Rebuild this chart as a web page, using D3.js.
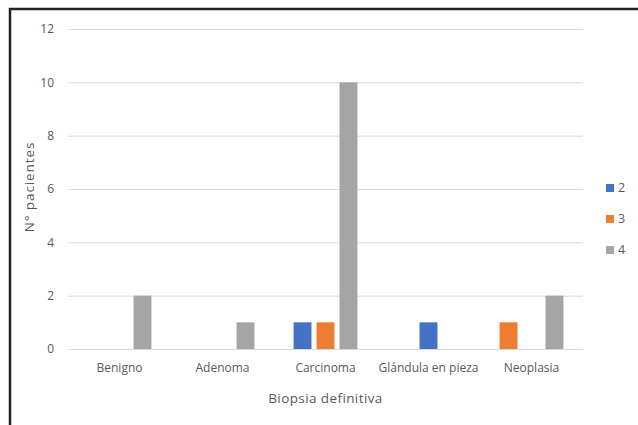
<!DOCTYPE html>
<html>
<head>
<meta charset="utf-8">
<script src="https://cdn.jsdelivr.net/npm/d3@7"></script>
<style>
  html, body { margin: 0; padding: 0; background: #fff; }
  svg { display: block; }
  text { font-family: "Open Sans", "Liberation Sans", sans-serif; fill: #595959; }
</style>
</head>
<body>
<svg id="chart" width="638" height="425"></svg>
<script>
// Categories on the x axis
const categories = ["Benigno", "Adenoma", "Carcinoma", "Glándula en pieza", "Neoplasia"];
// Legend series
const seriesNames = ["2", "3", "4"];
const seriesColors = ["#4472C4", "#ED7D31", "#A5A5A5"];
// Cluster columns within each category
const columns = ["c1", "c2", "c3"];
// One entry per bar: category, cluster column, series, value
const barCategory = ["Benigno", "Adenoma", "Carcinoma", "Carcinoma", "Carcinoma", "Glándula en pieza", "Neoplasia", "Neoplasia"];
const barColumn   = ["c3", "c3", "c1", "c2", "c3", "c2", "c1", "c3"];
const barSeries   = ["4", "4", "2", "3", "4", "2", "3", "4"];
const barValue    = [2, 1, 1, 1, 10, 1, 1, 2];
// Y axis ticks
const yTicks = [0, 2, 4, 6, 8, 10, 12];
const yTitle = "N° pacientes";
const xTitle = "Biopsia definitiva";

const svg = d3.select("#chart");

// Outer frame
svg.append("rect")
  .attr("x", 10).attr("y", 9)
  .attr("width", 640).attr("height", 430)
  .attr("fill", "none")
  .attr("stroke", "#222")
  .attr("stroke-width", 2.5);

const plot = { left: 68, right: 583, top: 29, bottom: 349 };

const y = d3.scaleLinear().domain([0, 12]).range([plot.bottom, plot.top]);
const x0 = d3.scaleBand().domain(categories).range([plot.left, plot.right])
  .paddingInner(0.38).paddingOuter(0.19);
const x1 = d3.scaleBand().domain(columns).range([0, x0.bandwidth()])
  .paddingInner(0.22).paddingOuter(0);
const color = d3.scaleOrdinal().domain(seriesNames).range(seriesColors);

// Gridlines and tick labels
const yAxis = d3.axisLeft(y)
  .tickValues(yTicks)
  .tickSize(-(plot.right - plot.left))
  .tickPadding(14)
  .tickFormat(d3.format("d"));
const gy = svg.append("g")
  .attr("transform", `translate(${plot.left},0)`)
  .call(yAxis);
gy.select(".domain").remove();
gy.selectAll(".tick line").attr("stroke", "#d9d9d9").attr("stroke-width", 1);
gy.selectAll(".tick text").attr("font-size", 12).attr("fill", "#595959");

// Bars
const bars = barValue.map((v, i) => ({
  category: barCategory[i], column: barColumn[i], series: barSeries[i], value: v
}));
svg.append("g").selectAll("rect")
  .data(bars)
  .join("rect")
  .attr("x", d => x0(d.category) + x1(d.column))
  .attr("width", x1.bandwidth())
  .attr("y", d => y(d.value))
  .attr("height", d => y(0) - y(d.value))
  .attr("fill", d => color(d.series));

// Category labels
const xAxis = d3.axisBottom(x0).tickSize(0).tickPadding(14);
const gx = svg.append("g")
  .attr("transform", `translate(0,${plot.bottom})`)
  .call(xAxis);
gx.select(".domain").remove();
gx.selectAll(".tick text").attr("font-size", 12).attr("fill", "#595959");

// Axis titles
svg.append("text")
  .attr("x", (plot.left + plot.right) / 2)
  .attr("y", 403)
  .attr("text-anchor", "middle")
  .attr("font-size", 13.5)
  .attr("letter-spacing", 0.4)
  .text(xTitle);

svg.append("text")
  .attr("transform", `translate(34,${(plot.top + plot.bottom) / 2 - 2}) rotate(-90)`)
  .attr("text-anchor", "middle")
  .attr("font-size", 13.5)
  .attr("letter-spacing", 0.9)
  .text(yTitle);

// Legend
const legendY = d3.scalePoint().domain(seriesNames).range([188, 250]);
const legend = svg.append("g").selectAll("g")
  .data(seriesNames)
  .join("g")
  .attr("transform", d => `translate(606,${legendY(d)})`);
legend.append("rect")
  .attr("x", 0).attr("y", -4)
  .attr("width", 8).attr("height", 8)
  .attr("fill", d => color(d));
legend.append("text")
  .attr("x", 12).attr("y", 0)
  .attr("dy", "0.35em")
  .attr("font-size", 12.5)
  .text(d => d);
</script>
</body>
</html>
